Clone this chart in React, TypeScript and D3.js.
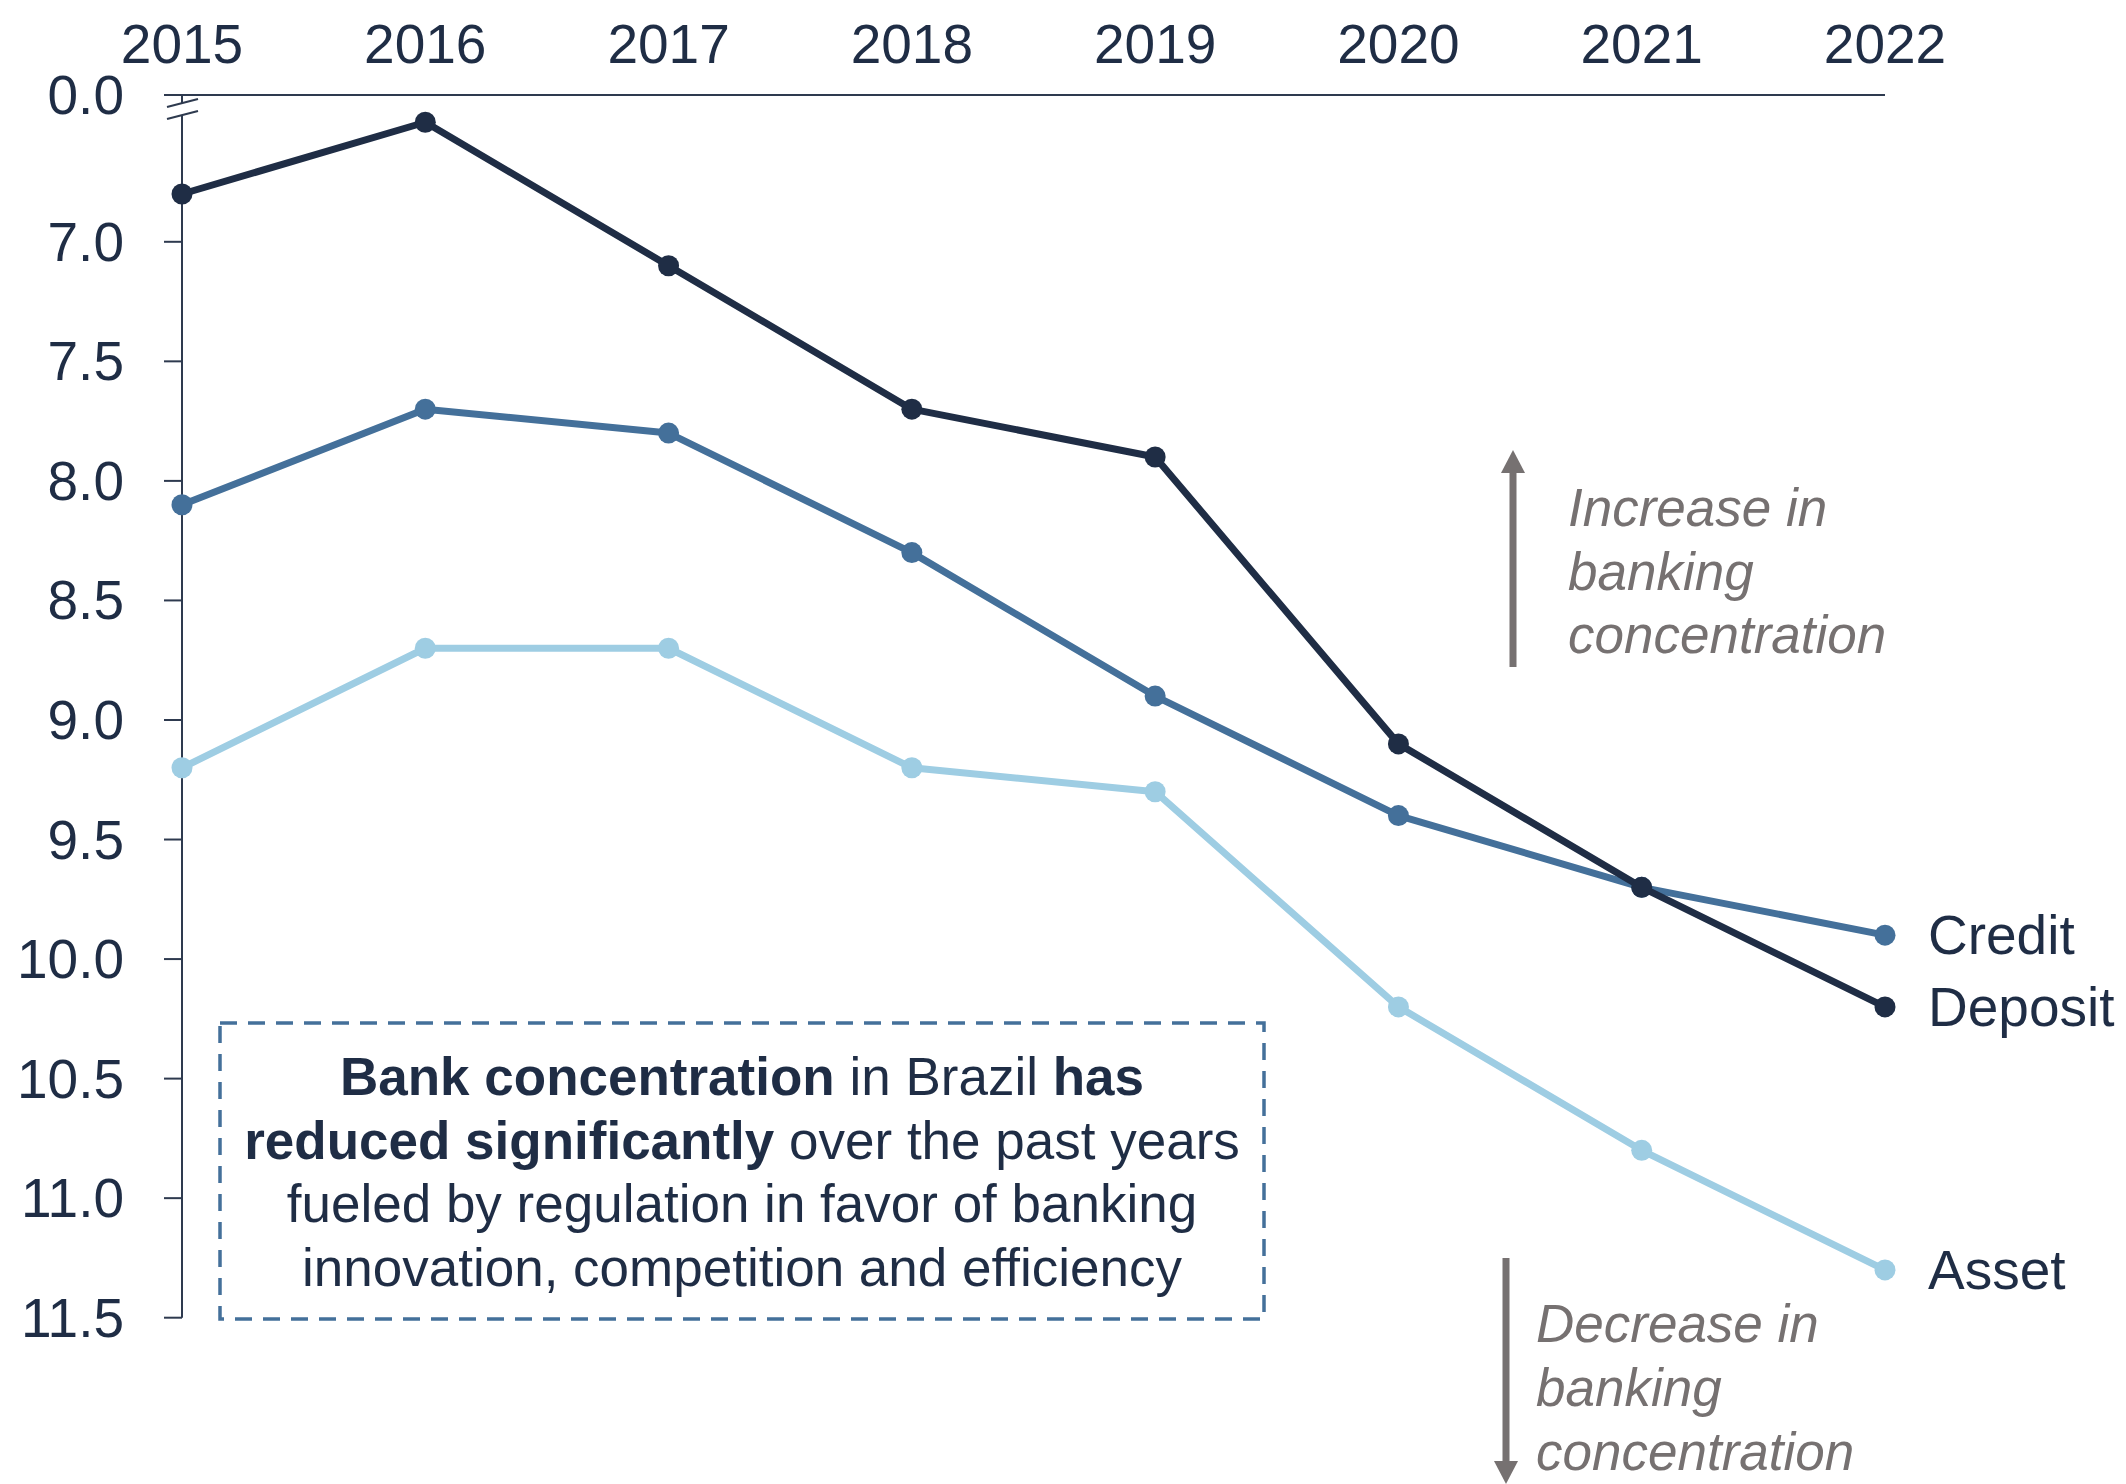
import React from "react";
import * as d3 from "d3";

const years = ["2015", "2016", "2017", "2018", "2019", "2020", "2021", "2022"];
const depositValues = [6.8, 6.5, 7.1, 7.7, 7.9, 9.1, 9.7, 10.2];
const creditValues = [8.1, 7.7, 7.8, 8.3, 8.9, 9.4, 9.7, 9.9];
const assetValues = [9.2, 8.7, 8.7, 9.2, 9.3, 10.2, 10.8, 11.3];
const yTickValues = [7.0, 7.5, 8.0, 8.5, 9.0, 9.5, 10.0, 10.5, 11.0, 11.5];
const breakLabel = "0.0";
const breakValue = 6.386; // visual position of the broken-axis "0.0"

const seriesNames = ["Asset", "Credit", "Deposit"];
const seriesData = [assetValues, creditValues, depositValues];
const seriesColors = ["#9ecde3", "#44709a", "#1f2d45"];

const boxLines = [
  [
    { t: "Bank concentration", b: true },
    { t: " in Brazil ", b: false },
    { t: "has", b: true },
  ],
  [
    { t: "reduced significantly", b: true },
    { t: " over the past years", b: false },
  ],
  [{ t: "fueled by regulation in favor of banking", b: false }],
  [{ t: "innovation, competition and efficiency", b: false }],
];
const upText = ["Increase in", "banking", "concentration"];
const downText = ["Decrease in", "banking", "concentration"];

const W = 2126;
const H = 1484;
const FONT = "'Liberation Sans', Arial, Helvetica, sans-serif";
const TEXT = "#1f2d45";
const AXIS = "#2e3a4f";
const GRAY = "#767171";

export default function App() {
  const x = d3.scalePoint<string>().domain(years).range([182, 1885]);
  const y = d3.scaleLinear().domain([breakValue, 11.5]).range([95, 1317.7]);
  const axisX = 182;
  const yTop = y(breakValue);
  const yBottom = y(11.5);

  const lineGen = d3
    .line<number>()
    .x((_, i) => x(years[i]) as number)
    .y((d) => y(d));

  const last = years[years.length - 1];

  return (
    <svg
      width={W}
      height={H}
      viewBox={`0 0 ${W} ${H}`}
      style={{ position: "absolute", left: 0, top: 0, display: "block", background: "#fff" }}
      fontFamily={FONT}
    >
      {/* year labels */}
      {years.map((yr) => (
        <text key={yr} x={x(yr)} y={63} textAnchor="middle" fontSize={55} fill={TEXT}>
          {yr}
        </text>
      ))}

      {/* top axis line */}
      <line x1={164} x2={x(last)} y1={yTop} y2={yTop} stroke={AXIS} strokeWidth={2} />

      {/* y axis with break */}
      <line x1={axisX} x2={axisX} y1={yTop} y2={yTop + 8} stroke={AXIS} strokeWidth={2} />
      <line x1={axisX} x2={axisX} y1={yTop + 20} y2={yBottom} stroke={AXIS} strokeWidth={2} />
      <line x1={167} y1={yTop + 12} x2={198} y2={yTop + 4} stroke={AXIS} strokeWidth={2} />
      <line x1={167} y1={yTop + 24} x2={198} y2={yTop + 16} stroke={AXIS} strokeWidth={2} />

      {/* y ticks */}
      <text x={124} y={yTop} textAnchor="end" dominantBaseline="central" fontSize={55} fill={TEXT}>
        {breakLabel}
      </text>
      {yTickValues.map((v) => (
        <g key={v}>
          <line x1={164} x2={axisX} y1={y(v)} y2={y(v)} stroke={AXIS} strokeWidth={2} />
          <text x={124} y={y(v)} textAnchor="end" dominantBaseline="central" fontSize={55} fill={TEXT}>
            {v.toFixed(1)}
          </text>
        </g>
      ))}

      {/* series */}
      {seriesData.map((vals, si) => (
        <g key={seriesNames[si]}>
          <path
            d={lineGen(vals) || ""}
            fill="none"
            stroke={seriesColors[si]}
            strokeWidth={7}
            strokeLinejoin="round"
          />
          {vals.map((v, i) => (
            <circle key={i} cx={x(years[i])} cy={y(v)} r={10.5} fill={seriesColors[si]} />
          ))}
          <text
            x={1928}
            y={y(vals[vals.length - 1])}
            dominantBaseline="central"
            fontSize={55}
            fill={TEXT}
          >
            {seriesNames[si]}
          </text>
        </g>
      ))}

      {/* dashed annotation box */}
      <rect
        x={220}
        y={1023}
        width={1044}
        height={296}
        fill="none"
        stroke="#44709a"
        strokeWidth={3.5}
        strokeDasharray="17 11"
      />
      {boxLines.map((parts, li) => (
        <text key={li} x={742} y={1095 + li * 63.7} textAnchor="middle" fontSize={53} fill={TEXT}>
          {parts.map((p, pi) => (
            <tspan key={pi} fontWeight={p.b ? "bold" : "normal"}>
              {p.t}
            </tspan>
          ))}
        </text>
      ))}

      {/* up arrow */}
      <line x1={1513} y1={667} x2={1513} y2={472} stroke={GRAY} strokeWidth={7} />
      <path d="M1501,473 L1513,450 L1525,473 Z" fill={GRAY} />
      {upText.map((t, i) => (
        <text key={i} x={1568} y={526 + i * 63.5} fontSize={53} fontStyle="italic" fill={GRAY}>
          {t}
        </text>
      ))}

      {/* down arrow */}
      <line x1={1506} y1={1258} x2={1506} y2={1462} stroke={GRAY} strokeWidth={7} />
      <path d="M1494,1461 L1506,1484 L1518,1461 Z" fill={GRAY} />
      {downText.map((t, i) => (
        <text key={i} x={1536} y={1342 + i * 64} fontSize={53} fontStyle="italic" fill={GRAY}>
          {t}
        </text>
      ))}
    </svg>
  );
}
